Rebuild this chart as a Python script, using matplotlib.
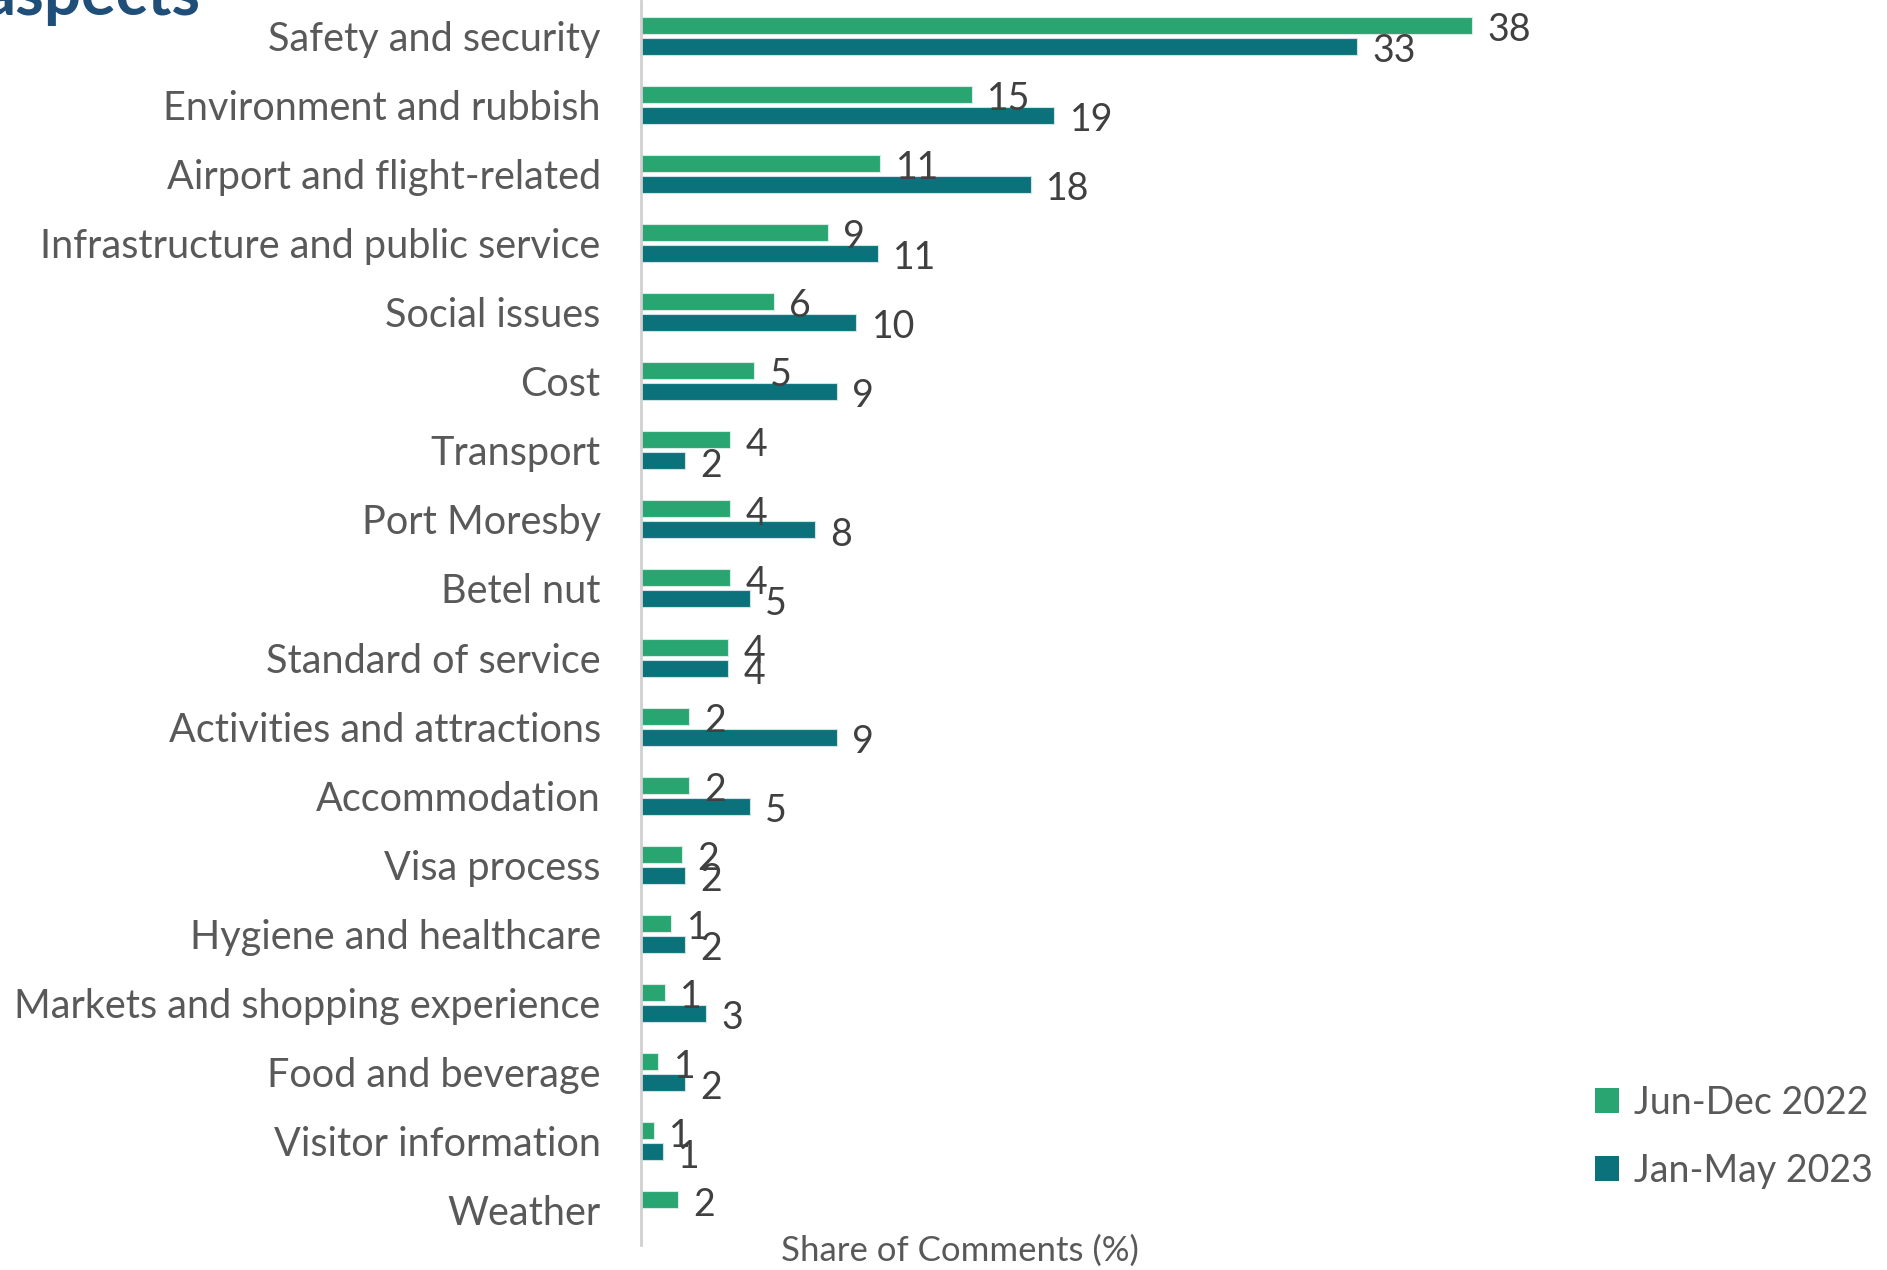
import numpy as np
import matplotlib
matplotlib.use("Agg")
import matplotlib.pyplot as plt
from matplotlib.patches import Patch

plt.rcParams['font.family'] = ['Lato', 'DejaVu Sans']

# share of comments per topic, two survey periods
categories = ["Safety and security", "Environment and rubbish", "Airport and flight-related",
              "Infrastructure and public service", "Social issues", "Cost", "Transport",
              "Port Moresby", "Betel nut", "Standard of service", "Activities and attractions",
              "Accommodation", "Visa process", "Hygiene and healthcare",
              "Markets and shopping experience", "Food and beverage", "Visitor information",
              "Weather"]
jun_dec_2022 = [38.2, 15.2, 11.0, 8.6, 6.1, 5.2, 4.1, 4.1, 4.1, 4.0, 2.2, 2.2, 1.9, 1.4,
                1.1, 0.8, 0.6, 1.7]
jan_may_2023 = [32.9, 19.0, 17.9, 10.9, 9.9, 9.0, 2.0, 8.0, 5.0, 4.0, 9.0, 5.0, 2.0, 2.0,
                3.0, 2.0, 1.0, np.nan]
series_names = ["Jun-Dec 2022", "Jan-May 2023"]

green = "#28a570"
teal = "#0b717a"
text_grey = "#595959"
label_grey = "#404040"

W, H = 1887, 1270
fig = plt.figure(figsize=(W / 100, H / 100), dpi=100)
ax = fig.add_axes([641 / W, 1 - 1245 / H, 914 / W, 1244 / H])

y = np.arange(len(categories))
bh = 0.246
off = 0.152
b1 = ax.barh(y - off, jun_dec_2022, height=bh, color=green, edgecolor="#d6ebe4", linewidth=0.8)
b2 = ax.barh(y + off, jan_may_2023, height=bh, color=teal, edgecolor="#cfe3e3", linewidth=0.8)

# value labels just past the bar ends
for bars, vals in ((b1, jun_dec_2022), (b2, jan_may_2023)):
    for rect, v in zip(bars, vals):
        if np.isnan(v):
            continue
        ax.annotate(f"{v:.0f}", (v, rect.get_y() + rect.get_height() / 2),
                    xytext=(11, -3.5), textcoords="offset points",
                    ha="left", va="center", fontsize=27, color=label_grey)

ax.set_xlim(0, 42)
ax.set_ylim(len(categories) - 0.5, -0.5)
ax.set_yticks(y)
ax.set_yticklabels(categories, fontsize=28.5, color=text_grey)
ax.tick_params(axis="y", length=0, pad=29)
ax.set_xticks([])
for s in ("top", "right", "bottom"):
    ax.spines[s].set_visible(False)
ax.spines["left"].set_color("#d0d0d0")
ax.spines["left"].set_linewidth(2)

fig.text(960 / W, 1 - 1251 / H, "Share of Comments (%)", ha="center", va="center",
         fontsize=25, color=text_grey)

# title running off the top-left corner
fig.text(200 / W, 1 - 15 / H, "aspects", ha="right", va="baseline",
         fontsize=47, fontweight="bold", color="#1f4e79")

handles = [Patch(facecolor=green), Patch(facecolor=teal)]
fig.legend(handles, series_names, loc="center left", bbox_to_anchor=(1561 / W, 1 - 1137 / H),
           frameon=False, fontsize=27, labelcolor=text_grey, handlelength=0.65,
           handleheight=0.65, handletextpad=0.4, labelspacing=0.85)

fig.savefig("out.png", dpi=100)
